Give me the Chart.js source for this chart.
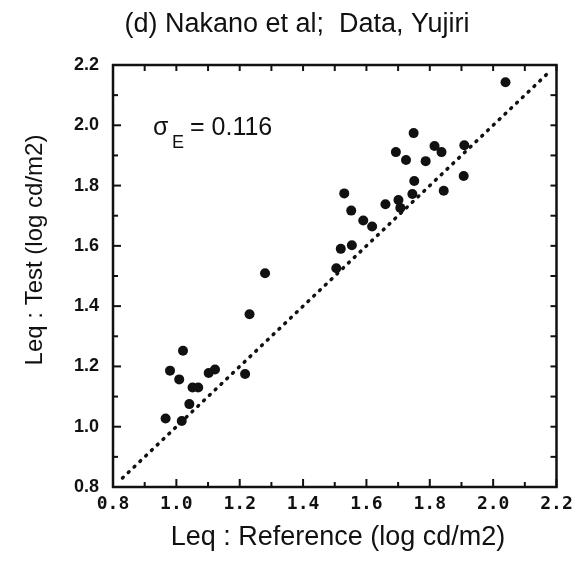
<!DOCTYPE html>
<html>
<head>
<meta charset="utf-8">
<script src="https://cdn.jsdelivr.net/npm/chart.js@4.4.1/dist/chart.umd.min.js"></script>
<style>
    html, body { margin: 0; padding: 0; background: #fff; }
    canvas { display: block; }
</style>
</head>
<body>
<canvas id="scatterChart" width="582" height="565"></canvas>
<script>
// Data (log cd/m2)
const refValues = [
    2.039, 1.749, 1.815, 1.837, 1.909, 1.693, 1.725, 1.787, 1.907, 1.751,
    1.844, 1.745, 1.530, 1.701, 1.707, 1.660, 1.552, 1.590, 1.618, 1.519,
    1.554, 1.505, 1.280, 1.231, 1.021, 0.980, 1.009, 1.102, 1.122, 1.217,
    1.051, 1.069, 1.041, 0.966, 1.017
];
const testValues = [
    2.143, 1.974, 1.931, 1.911, 1.934, 1.911, 1.885, 1.881, 1.832, 1.815,
    1.783, 1.772, 1.774, 1.752, 1.726, 1.738, 1.717, 1.684, 1.664, 1.590,
    1.602, 1.526, 1.509, 1.373, 1.252, 1.186, 1.157, 1.178, 1.190, 1.175,
    1.130, 1.130, 1.075, 1.027, 1.019
];
// slope-1 reference line
const diagonalEnds = [0.83, 2.18];

const tickLabels = [0.8, 1.0, 1.2, 1.4, 1.6, 1.8, 2.0, 2.2];
const minorTicks = [0.9, 1.1, 1.3, 1.5, 1.7, 1.9, 2.1];

const titleText = '(d) Nakano et al;  Data, Yujiri';
const xTitleText = 'Leq : Reference (log cd/m2)';
const yTitleText = 'Leq : Test (log cd/m2)';
const sigmaText = '0.116';

// Frame, inward ticks and all the free text
const framePlugin = {
    id: 'frame',
    afterDraw(chart) {
        const c = chart.ctx;
        const a = chart.chartArea;
        const xs = chart.scales.x;
        const ys = chart.scales.y;
        c.save();
        c.strokeStyle = '#111';
        c.lineWidth = 2.5;
        c.strokeRect(a.left, a.top, a.right - a.left, a.bottom - a.top);

        c.lineWidth = 2;
        const tick = (x1, y1, x2, y2) => {
            c.beginPath();
            c.moveTo(x1, y1);
            c.lineTo(x2, y2);
            c.stroke();
        };
        tickLabels.forEach(v => {
            const px = xs.getPixelForValue(v);
            const py = ys.getPixelForValue(v);
            tick(px, a.bottom, px, a.bottom - 8);
            tick(px, a.top, px, a.top + 6);
            tick(a.left, py, a.left + 8, py);
            tick(a.right, py, a.right - 6, py);
        });
        minorTicks.forEach(v => {
            const px = xs.getPixelForValue(v);
            const py = ys.getPixelForValue(v);
            tick(px, a.bottom, px, a.bottom - 5);
            tick(px, a.top, px, a.top + 6);
            tick(a.left, py, a.left + 5, py);
            tick(a.right, py, a.right - 6, py);
        });

        c.fillStyle = '#111';
        c.textBaseline = 'alphabetic';

        c.font = '27px "Liberation Sans", Arial, sans-serif';
        c.textAlign = 'center';
        c.fillText(titleText, 297, 32);

        c.font = '27px "Liberation Sans", Arial, sans-serif';
        c.fillText(xTitleText, 338, 545);

        c.save();
        c.translate(42, 250);
        c.rotate(-Math.PI / 2);
        c.font = '24px "Liberation Sans", Arial, sans-serif';
        c.fillText(yTitleText, 0, 0);
        c.restore();

        // sigma_E annotation
        c.textAlign = 'left';
        c.font = '25px "Liberation Sans", Arial, sans-serif';
        c.fillText('\u03c3', 153, 135);
        c.font = '18px "Liberation Sans", Arial, sans-serif';
        c.fillText('E', 172, 148);
        c.font = '25px "Liberation Sans", Arial, sans-serif';
        c.fillText('= ' + sigmaText, 190, 135);
        c.restore();
    }
};

const ctx = document.getElementById('scatterChart').getContext('2d');
const scatterChart = new Chart(ctx, {
    type: 'scatter',
    data: {
        datasets: [
            {
                label: 'Data',
                data: refValues.map((x, i) => ({ x: x, y: testValues[i] })),
                backgroundColor: '#111',
                borderWidth: 0,
                pointRadius: 5,
                pointHoverRadius: 5
            },
            {
                type: 'line',
                label: 'y = x',
                data: diagonalEnds.map(v => ({ x: v, y: v })),
                borderColor: '#111',
                borderWidth: 3.5,
                borderDash: [1, 7],
                borderCapStyle: 'round',
                pointRadius: 0,
                fill: false
            }
        ]
    },
    options: {
        responsive: false,
        animation: false,
        layout: {
            padding: { left: 0, top: 65, right: 25.5, bottom: 0 }
        },
        scales: {
            x: {
                type: 'linear',
                min: 0.8,
                max: 2.2,
                grid: { display: false, drawTicks: false },
                border: { display: false },
                afterBuildTicks: s => { s.ticks = tickLabels.map(v => ({ value: v })); },
                afterFit: s => { s.height = 78; },
                ticks: {
                    color: '#111',
                    padding: 7,
                    maxRotation: 0,
                    font: { family: '"DejaVu Sans Mono", monospace', size: 18, weight: 'bold' },
                    callback: v => Number(v).toFixed(1)
                }
            },
            y: {
                type: 'linear',
                min: 0.8,
                max: 2.2,
                grid: { display: false, drawTicks: false },
                border: { display: false },
                afterBuildTicks: s => { s.ticks = tickLabels.map(v => ({ value: v })); },
                afterFit: s => { s.width = 113; },
                ticks: {
                    color: '#111',
                    padding: 14,
                    font: { family: '"Liberation Sans", Arial, sans-serif', size: 18, weight: 'bold' },
                    callback: v => Number(v).toFixed(1)
                }
            }
        },
        plugins: {
            legend: { display: false },
            tooltip: { enabled: false }
        }
    },
    plugins: [framePlugin]
});
</script>
</body>
</html>
